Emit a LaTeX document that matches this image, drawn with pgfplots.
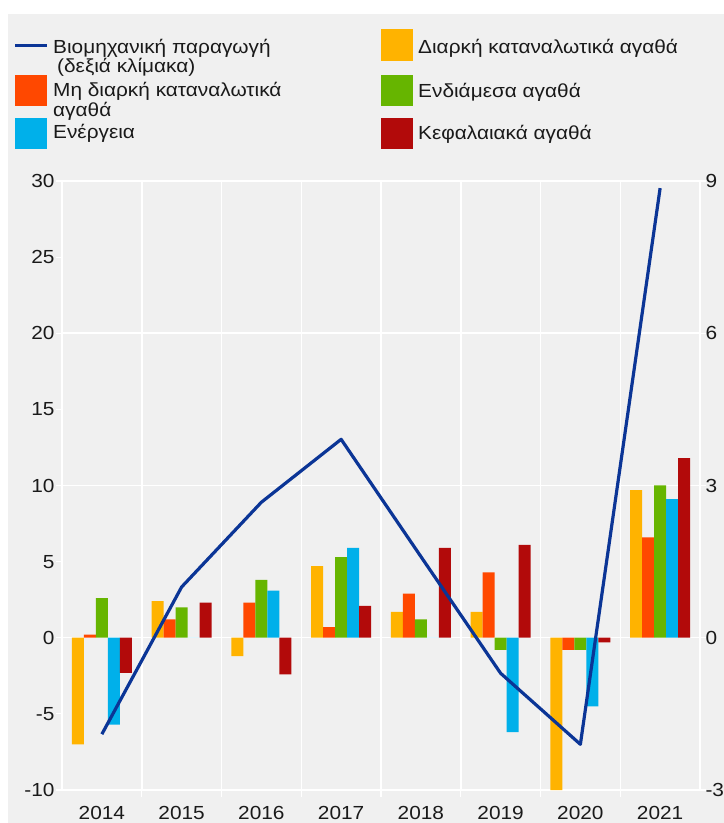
\documentclass[border=0pt]{standalone}
\usepackage{fontspec}
\setmainfont{Liberation Sans}[FakeStretch=1.1]
\usepackage{pgfplots}
\pgfplotsset{compat=1.18}
\definecolor{bg}{HTML}{F0F0F0}
\definecolor{cA}{HTML}{FFB300}
\definecolor{cB}{HTML}{FF4800}
\definecolor{cC}{HTML}{66B500}
\definecolor{cD}{HTML}{00B0EA}
\definecolor{cE}{HTML}{B20A0A}
\definecolor{lineblue}{HTML}{0B3596}
\definecolor{txt}{HTML}{1A1A1A}
\begin{document}
\fontsize{19}{20}\selectfont
\begin{tikzpicture}[x=1bp,y=1bp]
\useasboundingbox (0,0) rectangle (724,823);
\fill[white] (0,0) rectangle (724,823);
\fill[bg] (8,0) rectangle (724,809);
% legend
\draw[lineblue, line width=3bp] (15,777) -- (47,777);
\node[anchor=base west, inner sep=0, text=txt] at (53,769.7) {Βιομηχανική παραγωγή};
\node[anchor=base west, inner sep=0, text=txt] at (57,750.3) {(δεξιά κλίμακα)};
\fill[cB] (15,717) rectangle (47,748);
\node[anchor=base west, inner sep=0, text=txt] at (53,726) {Μη διαρκή καταναλωτικά};
\node[anchor=base west, inner sep=0, text=txt] at (53,706) {αγαθά};
\fill[cD] (15,674) rectangle (47,705);
\node[anchor=base west, inner sep=0, text=txt] at (53,684) {Ενέργεια};
\fill[cA] (381,762) rectangle (413,794);
\node[anchor=base west, inner sep=0, text=txt] at (418,769.7) {Διαρκή καταναλωτικά αγαθά};
\fill[cC] (381,717) rectangle (413,748);
\node[anchor=base west, inner sep=0, text=txt] at (418,725) {Ενδιάμεσα αγαθά};
\fill[cE] (381,674) rectangle (413,705);
\node[anchor=base west, inner sep=0, text=txt] at (418,683) {Κεφαλαιακά αγαθά};
\begin{axis}[
  at={(62bp,33bp)}, anchor=south west, scale only axis,
  width=638bp, height=609bp,
  xmin=-0.5, xmax=7.5, ymin=-10, ymax=30,
  ybar=0pt, bar width=12bp,
  axis line style={white, line width=1.2bp},
  xtick={0,...,7},
  xticklabels={2014,2015,2016,2017,2018,2019,2020,2021},
  minor xtick={0.5,1.5,...,6.5},
  xminorgrids=true,
  minor grid style={white, line width=1.5bp},
  major x tick style={draw=none},
  ytick={-10,-5,...,30},
  extra y ticks={0,10,20},
  extra y tick labels={},
  extra y tick style={grid=major, major grid style={white, line width=1.5bp}},
  ytick pos=left, xtick pos=bottom,
  tick align=outside,
  major tick length=6bp, minor tick length=7bp,
  tick style={white, line width=1.2bp},
  /pgf/number format/assume math mode=true,
  ticklabel style={font=\fontsize{19}{20}\selectfont, text=txt},
  xticklabel style={yshift=-4bp},
  yticklabel style={xshift=5bp},
]
\addplot[fill=cA, draw=none, bar shift=-24bp] coordinates {(0,-7.0) (1,2.4) (2,-1.2) (3,4.7) (4,1.7) (5,1.7) (6,-10.0) (7,9.7)};
\addplot[fill=cB, draw=none, bar shift=-12bp] coordinates {(0,0.2) (1,1.2) (2,2.3) (3,0.7) (4,2.9) (5,4.3) (6,-0.8) (7,6.6)};
\addplot[fill=cC, draw=none, bar shift=0bp] coordinates {(0,2.6) (1,2.0) (2,3.8) (3,5.3) (4,1.2) (5,-0.8) (6,-0.8) (7,10.0)};
\addplot[fill=cD, draw=none, bar shift=12bp] coordinates {(0,-5.7) (1,0) (2,3.1) (3,5.9) (4,0) (5,-6.2) (6,-4.5) (7,9.1)};
\addplot[fill=cE, draw=none, bar shift=24bp] coordinates {(0,-2.3) (1,2.3) (2,-2.4) (3,2.1) (4,5.9) (5,6.1) (6,-0.3) (7,11.8)};
\end{axis}
\begin{axis}[
  at={(62bp,33bp)}, anchor=south west, scale only axis,
  width=638bp, height=609bp,
  xmin=-0.5, xmax=7.5, ymin=-3, ymax=9,
  axis x line=none, axis y line*=right,
  axis line style={white, line width=1.2bp},
  ytick={-3,0,...,9},
  tick align=outside, major tick length=6bp,
  tick style={white, line width=1.2bp},
  /pgf/number format/assume math mode=true,
  ticklabel style={font=\fontsize{19}{20}\selectfont, text=txt},
  yticklabel style={xshift=-7bp},
]
\addplot[color=lineblue, line width=3.2bp, no marks, line join=round] coordinates {(0,-1.9) (1,1.0) (2,2.67) (3,3.91) (4,1.6) (5,-0.7) (6,-2.1) (7,8.86)};
\end{axis}
\end{tikzpicture}
\end{document}
